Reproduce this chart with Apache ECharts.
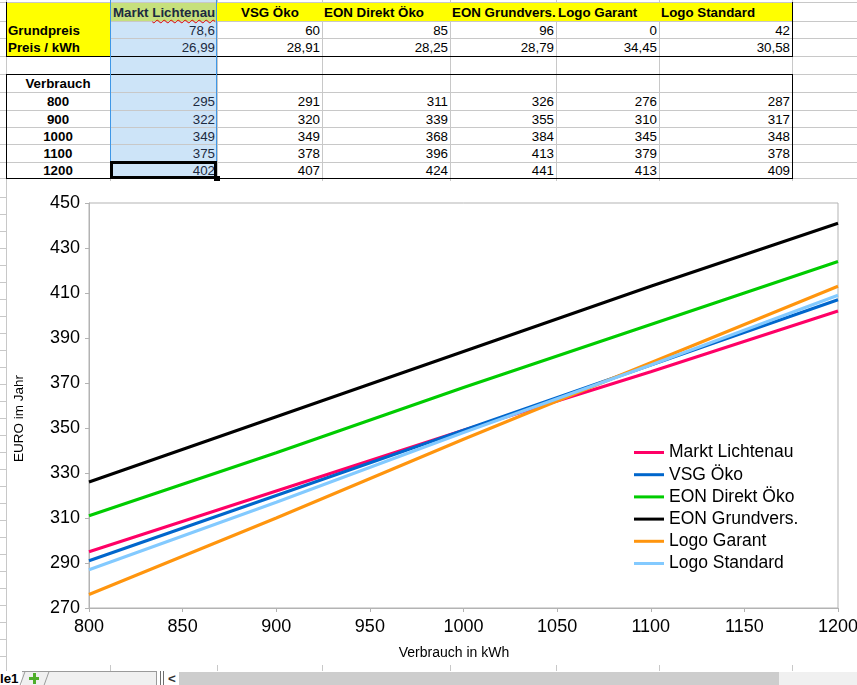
<!DOCTYPE html>
<html>
<head>
<meta charset="utf-8">
<script src="https://cdn.jsdelivr.net/npm/echarts/dist/echarts.min.js"></script>
<style>
  html, body { margin:0; padding:0; background:#fff; }
  body { width:857px; height:685px; overflow:hidden; position:relative; font-family:"Liberation Sans", Arial, sans-serif; }
  .a { position:absolute; }
  .t { position:absolute; white-space:nowrap; font-size:13.33px; color:#000; }
  .b { font-weight:bold; }
  #chart { position:absolute; left:7px; top:181px; width:850px; height:484px; }
</style>
</head>
<body>
<div id="sheet"></div>
<div id="chart"></div>
<script>
// ---------- data ----------
const providers = ['Markt Lichtenau', 'VSG Öko', 'EON Direkt Öko', 'EON Grundvers.', 'Logo Garant', 'Logo Standard'];
const grundpreis = [78.6, 60, 85, 96, 0, 42];
const preisKwh = [26.99, 28.91, 28.25, 28.79, 34.45, 30.58];
const verbrauch = [800, 900, 1000, 1100, 1200];
const marktLichtenau = [295, 322, 349, 375, 402];
const vsgOeko = [291, 320, 349, 378, 407];
const eonDirektOeko = [311, 339, 368, 396, 424];
const eonGrundvers = [326, 355, 384, 413, 441];
const logoGarant = [276, 310, 345, 379, 413];
const logoStandard = [287, 317, 348, 378, 409];
const seriesValues = [marktLichtenau, vsgOeko, eonDirektOeko, eonGrundvers, logoGarant, logoStandard];
const yTickValues = [270, 290, 310, 330, 350, 370, 390, 410, 430, 450];
const xAxisTitle = 'Verbrauch in kWh';
const yAxisTitle = 'EURO im Jahr';
const sheetLabels = ['Grundpreis', 'Preis / kWh', 'Verbrauch'];

// ---------- styles ----------
const colors = ['#ff0066', '#0066cc', '#00cc00', '#000000', '#ff950e', '#83caff'];
const FONT = '"Liberation Sans", Arial, sans-serif';

// ---------- spreadsheet (HTML) ----------
const sheet = document.getElementById('sheet');
function rect(x, y, w, h, bg, extra) {
  const d = document.createElement('div');
  d.className = 'a';
  d.style.left = x + 'px'; d.style.top = y + 'px';
  d.style.width = w + 'px'; d.style.height = h + 'px';
  d.style.background = bg;
  if (extra) Object.assign(d.style, extra);
  sheet.appendChild(d);
  return d;
}
function text(str, x, y, h, opts) {
  opts = opts || {};
  const d = document.createElement('div');
  d.className = 't' + (opts.bold ? ' b' : '');
  d.style.top = y + 'px';
  d.style.height = h + 'px';
  d.style.lineHeight = (h + 2) + 'px';
  if (opts.align === 'right') { d.style.right = (857 - x) + 'px'; d.style.textAlign = 'right'; }
  else if (opts.align === 'center') { d.style.left = (x - 100) + 'px'; d.style.width = '200px'; d.style.textAlign = 'center'; }
  else d.style.left = x + 'px';
  if (opts.color) d.style.color = opts.color;
  if (opts.html) d.innerHTML = str; else d.textContent = str;
  sheet.appendChild(d);
  return d;
}
const fmt = v => String(v).replace('.', ',');

const colX = [6, 110, 217, 322, 450, 556, 659, 792];
const rowY = [2, 21, 38, 56, 74, 92, 110, 127, 144, 162, 178];
const GRID = '#c8c8c8';

// selected column B background
rect(111, 0, 105, 178, '#cde4f8');
// horizontal grid lines
rowY.forEach(y => rect(0, y, 857, 1, GRID));
// vertical grid lines
colX.forEach(x => rect(x, 0, 1, 181, GRID));
// row header strip lines below table
for (let y = 197; y < 671; y += 17) rect(0, y, 6, 1, GRID);
rect(6, 178, 1, 493, GRID);
// bottom strip column stubs
colX.slice(1).forEach(x => rect(x, 665, 1, 6, GRID));

// yellow areas
rect(7, 3, 785, 18, '#ffff00');
rect(7, 3, 103, 53, '#ffff00');
// B1 yellow + selection tint
rect(111, 3, 105, 18, '#c6e07c');

// black borders
rect(6, 56, 787, 1, '#000');
rect(6, 2, 1, 55, '#000');
rect(792, 2, 1, 55, '#000');
rect(6, 74, 787, 1, '#000');
rect(6, 178, 787, 1, '#000');
rect(6, 74, 1, 105, '#000');
rect(792, 74, 1, 105, '#000');

// selection borders (column B)
rect(110, 0, 1, 179, '#3f97e6');
rect(216, 0, 1, 179, '#3f97e6');

// header texts
const headerX = [113, 241, 324, 452, 558, 661];
providers.forEach((p, i) => {
  if (i === 0) {
    text('Markt <span style="text-decoration:underline wavy #e00000;text-decoration-thickness:1px;text-underline-offset:2px">Lichtenau</span>', headerX[i], 3, 18, {bold: true, html: true, color: '#1c2a40'});
  } else {
    text(p, headerX[i], 3, 18, {bold: true});
  }
});
// row labels
text(sheetLabels[0], 8, 21, 17, {bold: true});
text(sheetLabels[1], 8, 38, 18, {bold: true});
text(sheetLabels[2], 58, 74, 18, {bold: true, align: 'center'});
verbrauch.forEach((v, r) => {
  text(String(v), 58, rowY[5 + r], rowY[6 + r] - rowY[5 + r], {bold: true, align: 'center'});
});
// values
providers.forEach((p, c) => {
  const right = colX[c + 2] - 2;
  const col = c === 0 ? '#1c2a40' : '#000';
  text(fmt(grundpreis[c]), right, 21, 17, {align: 'right', color: col});
  text(fmt(preisKwh[c]), right, 38, 18, {align: 'right', color: col});
  seriesValues[c].forEach((v, r) => {
    text(String(v), right, rowY[5 + r], rowY[6 + r] - rowY[5 + r], {align: 'right', color: col});
  });
});
// cell cursor on B10
rect(110, 161, 107, 18, 'transparent', {boxSizing: 'border-box', border: '3px solid #000'});
rect(214, 176, 6, 6, '#000');

// bottom tab bar
rect(0, 671, 857, 14, '#ffffff');
text('le1', 0, 671, 13, {bold: true});
rect(22, 671, 135, 14, '#f0f0f0', {borderTop: '1px solid #9a9a9a', boxSizing: 'border-box'});
rect(22, 672, 1, 13, '#9a9a9a', {transform: 'skewX(-20deg)'});
rect(46, 672, 1, 13, '#9a9a9a', {transform: 'skewX(-20deg)'});
rect(156, 671, 1, 14, '#9a9a9a');
rect(29, 677, 10, 3, '#4fae2a');
rect(32.5, 673, 3, 11, '#4fae2a');
rect(160, 671, 1, 14, '#6e6e6e');
rect(163, 671, 1, 14, '#6e6e6e');
text('<', 168, 671, 13, {bold: true, color: '#333'});
rect(179, 672, 600, 13, '#cdcdcd');
rect(779, 672, 78, 13, '#f0f0f0');

// ---------- chart (ECharts) ----------
const chart = echarts.init(document.getElementById('chart'), null, {renderer: 'canvas'});
const option = {
  animation: false,
  backgroundColor: '#ffffff',
  textStyle: {fontFamily: FONT},
  grid: {left: 82, right: 19, top: 22, bottom: 57, show: true, borderColor: '#b3b3b3', borderWidth: 1,
         backgroundColor: 'transparent', containLabel: false, outerBoundsMode: 'none'},
  xAxis: {
    type: 'value', min: 800, max: 1200, interval: 50,
    axisLine: {show: true, lineStyle: {color: '#b3b3b3', width: 1}},
    axisTick: {show: true, inside: false, length: 4, lineStyle: {color: '#b3b3b3'}},
    axisLabel: {color: '#000', fontSize: 18, margin: 10, fontFamily: FONT, showMinLabel: true, showMaxLabel: true,
                hideOverlap: false, formatter: v => String(v)},
    splitLine: {show: false}
  },
  yAxis: {
    type: 'value', min: 270, max: 450, interval: 10,
    axisLine: {show: true, lineStyle: {color: '#b3b3b3', width: 1}},
    axisTick: {show: true, inside: false, length: 4, lineStyle: {color: '#b3b3b3'}, customValues: yTickValues},
    axisLabel: {color: '#000', fontSize: 18, margin: 9, fontFamily: FONT, customValues: yTickValues, formatter: v => String(v)},
    splitLine: {show: false}
  },
  legend: {
    orient: 'vertical', left: 627, top: 262.5, padding: 0,
    icon: 'rect', itemWidth: 30, itemHeight: 3, itemGap: 4.2,
    selectedMode: false,
    textStyle: {fontSize: 17.5, color: '#000', fontFamily: FONT, lineHeight: 17},
    data: providers
  },
  graphic: [
    {type: 'text', x: 447, y: 472, silent: true,
     style: {text: xAxisTitle, fill: '#000', fontSize: 14, fontFamily: FONT, font: '14px ' + FONT, align: 'center', verticalAlign: 'middle', textAlign: 'center', textVerticalAlign: 'middle'}},
    {type: 'text', x: 12, y: 237.5, rotation: Math.PI / 2, silent: true,
     style: {text: yAxisTitle, fill: '#000', fontSize: 13.5, fontFamily: FONT, font: '13.5px ' + FONT, align: 'center', verticalAlign: 'middle', textAlign: 'center', textVerticalAlign: 'middle'}}
  ],
  series: providers.map((name, i) => ({
    name: name,
    type: 'line',
    data: verbrauch.map((x, k) => [x, seriesValues[i][k]]),
    symbol: 'none',
    showSymbol: false,
    silent: true,
    color: colors[i],
    lineStyle: {color: colors[i], width: 3},
    z: 2 + i
  }))
};
chart.setOption(option);
</script>
</body>
</html>
